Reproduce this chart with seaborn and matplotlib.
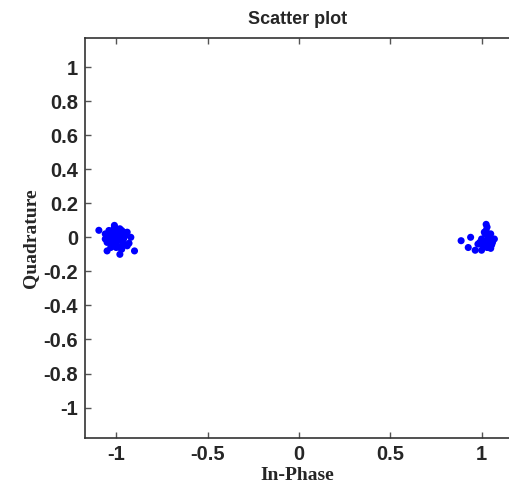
import pandas as pd
import matplotlib.pyplot as plt
import seaborn as sns

# received symbols near -1
left_i = [-1.095, -1.008, -0.90, -0.98, -1.05, -0.92, -1.01, -0.93, -1.02, -0.99,
          -1.03, -0.97, -1.00, -1.04, -0.96, -1.01, -0.98, -1.02, -1.00, -0.95,
          -1.03, -0.99, -1.06, -0.97, -1.01, -0.94, -1.04, -1.00, -0.98, -1.02,
          -0.96, -1.05, -0.99, -1.01, -0.97, -1.03, -1.00, -0.95, -1.02, -0.98,
          -1.04, -0.96, -1.01, -0.99, -1.03, -0.94, -1.00, -1.02, -0.97, -1.06]
left_q = [0.041, -0.006, -0.08, -0.10, -0.08, 0.00, 0.07, -0.035, 0.02, -0.01,
          0.03, 0.01, 0.04, -0.02, -0.04, -0.05, 0.05, -0.03, 0.00, 0.02,
          -0.06, 0.03, -0.01, -0.02, 0.06, -0.05, 0.01, -0.04, -0.06, 0.04,
          0.03, -0.03, 0.00, 0.02, -0.07, -0.01, 0.05, 0.01, -0.05, 0.02,
          0.04, -0.01, -0.03, -0.02, 0.00, 0.03, -0.06, 0.01, 0.04, 0.02]

# received symbols near +1
right_i = [0.888, 1.025, 0.927, 0.965, 0.94, 1.07, 1.025, 1.02, 1.00, 1.05,
           1.03, 1.04, 1.01, 1.035, 1.045, 0.99, 1.015, 1.055, 1.03, 1.00,
           1.04, 1.02, 1.06, 0.98, 1.035, 1.01, 1.05, 1.025]
right_q = [-0.02, 0.076, -0.06, -0.076, 0.00, -0.01, -0.03, 0.02, -0.076, -0.065,
           0.06, -0.04, -0.05, 0.01, -0.02, -0.03, 0.03, -0.045, -0.06, -0.01,
           0.00, -0.05, -0.03, -0.04, -0.015, -0.02, 0.02, 0.04]

df = pd.DataFrame({
    'I': left_i + right_i,
    'Q': left_q + right_q,
})

sns.set_style('white')

fig = plt.figure(figsize=(5.1, 4.88), dpi=100)
ax = fig.add_axes([0.167, 0.102, 0.831, 0.820])

sns.scatterplot(data=df, x='I', y='Q', color=(0, 0, 1), s=26, edgecolor='none',
                linewidth=0, ax=ax)

ax.set_xlim(-1.17, 1.15)
ax.set_ylim(-1.18, 1.17)
ax.set_xticks([-1, -0.5, 0, 0.5, 1])
ax.set_xticklabels(['-1', '-0.5', '0', '0.5', '1'])
yt = [-1, -0.8, -0.6, -0.4, -0.2, 0, 0.2, 0.4, 0.6, 0.8, 1]
ax.set_yticks(yt)
ax.set_yticklabels(['-1', '-0.8', '-0.6', '-0.4', '-0.2', '0', '0.2', '0.4', '0.6', '0.8', '1'])

for lab in ax.get_xticklabels() + ax.get_yticklabels():
    lab.set_family('Liberation Sans')
    lab.set_fontweight('bold')
    lab.set_fontsize(14.5)

ax.tick_params(direction='in', length=4, width=1, color='#555555',
               top=True, right=False, left=True, bottom=True, pad=5)

for side in ['left', 'bottom', 'top']:
    ax.spines[side].set_color('#333333')
    ax.spines[side].set_linewidth(1.2)
ax.spines['right'].set_visible(False)

ax.set_title('Scatter plot', fontfamily='Liberation Sans', fontweight='bold',
             fontsize=13, pad=10)
ax.set_xlabel('In-Phase', fontfamily='Liberation Serif', fontweight='bold', fontsize=14, labelpad=2)
ax.set_ylabel('Quadrature', fontfamily='Liberation Serif', fontweight='bold', fontsize=14, labelpad=3)

plt.savefig('out.png', dpi=100)
